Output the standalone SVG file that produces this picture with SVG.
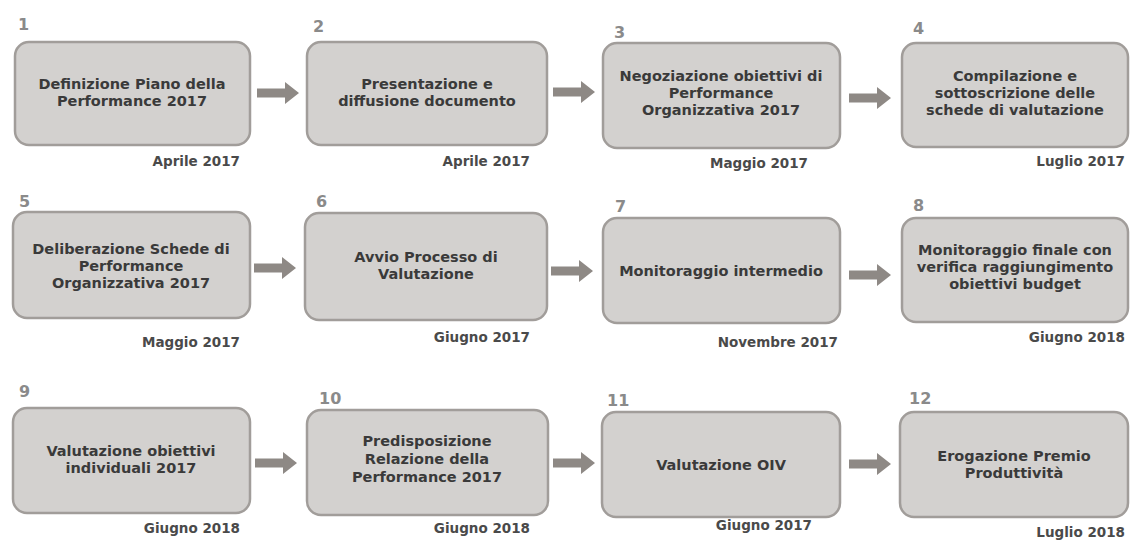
<svg xmlns="http://www.w3.org/2000/svg" xmlns:xlink="http://www.w3.org/1999/xlink" width="1135" height="542" viewBox="0 0 1135 542">
<style>
.box{fill:#d3d1cf;stroke:#a19d9a;stroke-width:2.5}
.lbl{font-family:"DejaVu Sans",Verdana,sans-serif;font-size:14.5px;font-weight:bold;fill:#3a3a3a;text-anchor:middle}
.num{font-family:"DejaVu Sans",Verdana,sans-serif;font-size:16px;font-weight:bold;fill:#8a8a8a}
.date{font-family:"DejaVu Sans",Verdana,sans-serif;font-size:13.5px;font-weight:bold;fill:#4a4a4a;text-anchor:end}
.arr{fill:#8e8985}
</style>
<defs>
<path id="arrow" class="arr" d="M0,-4.5 H28 V-11 L42,0 L28,11 V4.5 H0 Z"/>
</defs>
<rect width="1135" height="542" fill="#fff"/>
<g id="connectors">
<use xlink:href="#arrow" href="#arrow" x="257" y="93"/>
<use xlink:href="#arrow" href="#arrow" x="553" y="92"/>
<use xlink:href="#arrow" href="#arrow" x="849" y="98"/>
<use xlink:href="#arrow" href="#arrow" x="254" y="268"/>
<use xlink:href="#arrow" href="#arrow" x="551" y="271"/>
<use xlink:href="#arrow" href="#arrow" x="849" y="275"/>
<use xlink:href="#arrow" href="#arrow" x="255" y="463"/>
<use xlink:href="#arrow" href="#arrow" x="553" y="463"/>
<use xlink:href="#arrow" href="#arrow" x="849" y="464"/>
</g>
<g id="n1">
<text class="num" x="18" y="30">1</text>
<rect class="box" x="15" y="42" width="235" height="103" rx="14"/>
<text class="lbl" x="132" y="89">Definizione Piano della</text>
<text class="lbl" x="132" y="106">Performance 2017</text>
<text class="date" x="240" y="166">Aprile 2017</text>
</g>
<g id="n2">
<text class="num" x="313" y="32">2</text>
<rect class="box" x="307" y="42" width="240" height="103" rx="14"/>
<text class="lbl" x="427" y="89">Presentazione e</text>
<text class="lbl" x="427" y="106">diffusione documento</text>
<text class="date" x="530" y="166">Aprile 2017</text>
</g>
<g id="n3">
<text class="num" x="614" y="38">3</text>
<rect class="box" x="603" y="43" width="237" height="105" rx="14"/>
<text class="lbl" x="721" y="81">Negoziazione obiettivi di</text>
<text class="lbl" x="721" y="98">Performance</text>
<text class="lbl" x="721" y="115">Organizzativa 2017</text>
<text class="date" x="808" y="168">Maggio 2017</text>
</g>
<g id="n4">
<text class="num" x="913" y="34">4</text>
<rect class="box" x="902" y="43" width="226" height="104" rx="14"/>
<text class="lbl" x="1015" y="81">Compilazione e</text>
<text class="lbl" x="1015" y="98">sottoscrizione delle</text>
<text class="lbl" x="1015" y="115">schede di valutazione</text>
<text class="date" x="1125" y="166">Luglio 2017</text>
</g>
<g id="n5">
<text class="num" x="19" y="207">5</text>
<rect class="box" x="13" y="212" width="237" height="106" rx="14"/>
<text class="lbl" x="131" y="254">Deliberazione Schede di</text>
<text class="lbl" x="131" y="271">Performance</text>
<text class="lbl" x="131" y="288">Organizzativa 2017</text>
<text class="date" x="240" y="347">Maggio 2017</text>
</g>
<g id="n6">
<text class="num" x="316" y="207">6</text>
<rect class="box" x="305" y="213" width="242" height="107" rx="14"/>
<text class="lbl" x="426" y="262">Avvio Processo di</text>
<text class="lbl" x="426" y="279">Valutazione</text>
<text class="date" x="530" y="342">Giugno 2017</text>
</g>
<g id="n7">
<text class="num" x="615" y="212">7</text>
<rect class="box" x="603" y="218" width="237" height="105" rx="14"/>
<text class="lbl" x="721" y="276">Monitoraggio intermedio</text>
<text class="date" x="838" y="347">Novembre 2017</text>
</g>
<g id="n8">
<text class="num" x="913" y="211">8</text>
<rect class="box" x="902" y="218" width="226" height="104" rx="14"/>
<text class="lbl" x="1015" y="255">Monitoraggio finale con</text>
<text class="lbl" x="1015" y="272">verifica raggiungimento</text>
<text class="lbl" x="1015" y="289">obiettivi budget</text>
<text class="date" x="1125" y="342">Giugno 2018</text>
</g>
<g id="n9">
<text class="num" x="19" y="397">9</text>
<rect class="box" x="13" y="408" width="237" height="105" rx="14"/>
<text class="lbl" x="131" y="456">Valutazione obiettivi</text>
<text class="lbl" x="131" y="473">individuali 2017</text>
<text class="date" x="240" y="533">Giugno 2018</text>
</g>
<g id="n10">
<text class="num" x="319" y="404">10</text>
<rect class="box" x="307" y="410" width="241" height="105" rx="14"/>
<text class="lbl" x="427" y="446">Predisposizione</text>
<text class="lbl" x="427" y="464">Relazione della</text>
<text class="lbl" x="427" y="482">Performance 2017</text>
<text class="date" x="530" y="533">Giugno 2018</text>
</g>
<g id="n11">
<text class="num" x="607" y="406">11</text>
<rect class="box" x="602" y="412" width="238" height="105" rx="14"/>
<text class="lbl" x="721" y="470">Valutazione OIV</text>
<text class="date" x="812" y="530">Giugno 2017</text>
</g>
<g id="n12">
<text class="num" x="909" y="404">12</text>
<rect class="box" x="900" y="412" width="228" height="105" rx="14"/>
<text class="lbl" x="1014" y="461">Erogazione Premio</text>
<text class="lbl" x="1014" y="478">Produttività</text>
<text class="date" x="1125" y="537">Luglio 2018</text>
</g>
</svg>
